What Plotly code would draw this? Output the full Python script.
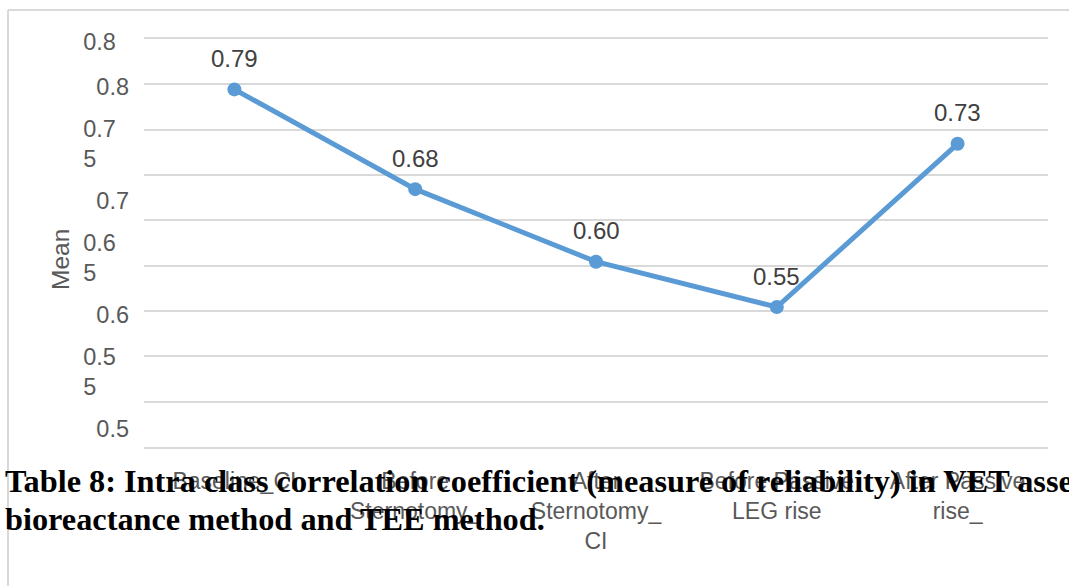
import plotly.graph_objects as go

# ---- data -------------------------------------------------------------
categories = [
    "Baseline_CI",
    "Before Sternotomy_",
    "After Sternotomy_ CI",
    "Before Passive LEG rise",
    "After Passive rise_",
]
category_labels = [
    "Baseline_CI",
    "Before<br>Sternotomy_",
    "After<br>Sternotomy_<br>CI",
    "Before Passive<br>LEG rise",
    "After Passive<br>rise_",
]
mean_icc = [0.79, 0.68, 0.60, 0.55, 0.73]

y_tick_values = [0.84, 0.80, 0.75, 0.70, 0.65, 0.60, 0.55, 0.50]
y_tick_labels = ["0.8", "0.8", "0.7<br>5", "0.7", "0.6<br>5", "0.6", "0.5<br>5", "0.5"]

caption_lines = [
    "Table 8: Intra class correlation coefficient (measure of reliability) in VET assessment by",
    "bioreactance method and TEE method.",
]

# ---- styling ----------------------------------------------------------
W, H = 1069, 586
L, R, T, B = 144, 21, 39, 139
plot_w, plot_h = W - L - R, H - T - B

LINE_BLUE = "#5b9bd5"
GRID = "#d9d9d9"
TICK_GREY = "#595959"
LABEL_GREY = "#404040"
SANS = "Liberation Sans, Arial, sans-serif"
SERIF = "Liberation Serif, Times New Roman, serif"
NB = "\u00a0"


def px_x(px):
    return (px - L) / plot_w


def px_y(py):
    return (H - B - py) / plot_h


def indent(label, wrapped):
    # wrapped labels sit left-aligned in the narrow label column
    if not wrapped:
        return label
    parts = label.split("<br>")
    if len(parts) == 1:
        return parts[0] + NB * 2
    return parts[0] + NB * 2 + "<br>" + parts[1] + NB * 5


y_tick_text = [indent(t, i == 0 or "<br>" in t) for i, t in enumerate(y_tick_labels)]

fig = go.Figure()

fig.add_trace(
    go.Scatter(
        x=categories,
        y=mean_icc,
        mode="lines+markers",
        line=dict(color=LINE_BLUE, width=5),
        marker=dict(color=LINE_BLUE, size=14),
        cliponaxis=False,
        showlegend=False,
        hoverinfo="x+y",
    )
)
# carrier trace so the label axis is drawn
fig.add_trace(
    go.Scatter(x=[categories[0]], y=[None], yaxis="y2", showlegend=False, hoverinfo="skip")
)

annotations = []
for c, v in zip(categories, mean_icc):
    annotations.append(
        dict(
            x=c, y=v, xref="x", yref="y", text=f"{v:.2f}", showarrow=False,
            yshift=31, font=dict(family=SANS, size=24, color=LABEL_GREY),
        )
    )

annotations.append(
    dict(
        x=px_x(60), y=px_y(260), xref="paper", yref="paper", text="Mean",
        xanchor="center", yanchor="middle",
        textangle=-90, showarrow=False,
        font=dict(family=SANS, size=24.5, color=TICK_GREY),
    )
)

for i, line in enumerate(caption_lines):
    annotations.append(
        dict(
            x=px_x(3), y=px_y(481 + 38 * i), xref="paper", yref="paper",
            xanchor="left", yanchor="middle", text=f"<b>{line}</b>",
            showarrow=False, align="left",
            font=dict(family=SERIF, size=32.3, color="black"),
        )
    )

fig.update_layout(
    width=W,
    height=H,
    margin=dict(l=L, r=R, t=T, b=B, pad=0),
    paper_bgcolor="white",
    plot_bgcolor="white",
    xaxis=dict(
        type="category",
        range=[-0.5, len(categories) - 0.5],
        tickmode="array",
        tickvals=categories,
        ticktext=category_labels,
        showgrid=False,
        showline=True,
        mirror=True,
        linecolor=GRID,
        linewidth=1.6,
        ticks="",
        ticklabelstandoff=13,
        tickfont=dict(family=SANS, size=23, color=TICK_GREY),
    ),
    yaxis=dict(
        range=[0.3956, 0.8456],
        tick0=0.3956,
        dtick=0.05,
        showgrid=True,
        gridcolor=GRID,
        gridwidth=1.6,
        showticklabels=False,
        zeroline=False,
        ticks="",
    ),
    yaxis2=dict(
        overlaying="y",
        side="left",
        range=[0.4842, 0.8421],
        tickmode="array",
        tickvals=y_tick_values,
        ticktext=y_tick_text,
        showgrid=False,
        zeroline=False,
        showline=False,
        ticks="",
        ticklabelstandoff=14,
        tickfont=dict(family=SANS, size=23.5, color=TICK_GREY),
    ),
    annotations=annotations,
    shapes=[
        dict(type="line", xref="paper", yref="paper",
             x0=px_x(8), x1=px_x(8), y0=px_y(10), y1=px_y(H + 5),
             line=dict(color=GRID, width=2)),
        dict(type="line", xref="paper", yref="paper",
             x0=px_x(8), x1=px_x(W + 5), y0=px_y(10), y1=px_y(10),
             line=dict(color=GRID, width=2)),
    ],
)

fig.write_html("out.html")
